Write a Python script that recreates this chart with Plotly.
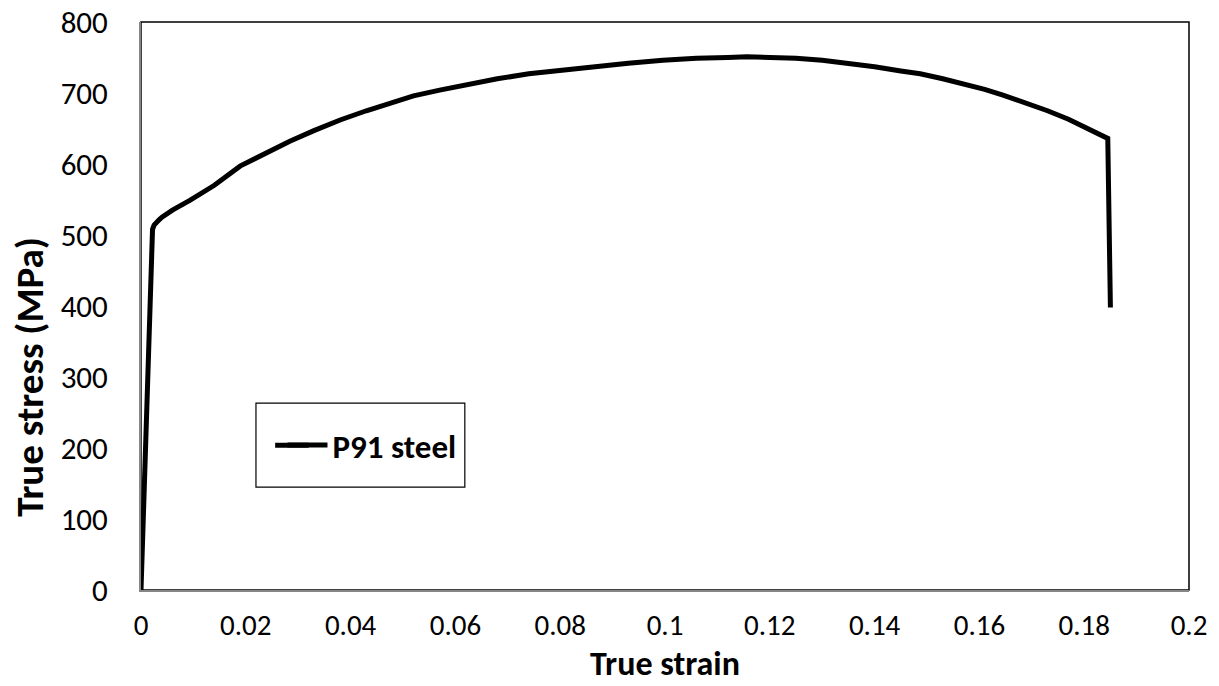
import plotly.graph_objects as go

# True strain / true stress
strain = [0.0, 0.0010, 0.0020, 0.0022, 0.0025, 0.0029, 0.0034, 0.0040, 0.0060, 0.0094, 0.0140,
          0.0189, 0.0240, 0.0284, 0.0330, 0.0380, 0.0430, 0.0475, 0.0520, 0.0570,
          0.0620, 0.0680, 0.0740, 0.0775, 0.0800, 0.0860, 0.0930, 0.0996, 0.1060,
          0.1120, 0.1156, 0.1200, 0.1250, 0.1300, 0.1350, 0.1400, 0.1450, 0.1487,
          0.1530, 0.1570, 0.1610, 0.1645, 0.1690, 0.1730, 0.1770, 0.1810, 0.1845, 0.1850]
stress = [0, 250, 500, 508, 514, 518, 521, 525, 535, 549, 570,
          597, 616, 632, 647, 662, 675, 686, 696, 704,
          712, 720, 727, 730, 732, 737, 742, 746, 749,
          750, 751, 750, 749, 746, 742, 737, 731, 727,
          720, 713, 705, 697, 686, 675, 663, 649, 636, 398]

series_name = "P91 steel"
x_ticks = [0, 0.02, 0.04, 0.06, 0.08, 0.1, 0.12, 0.14, 0.16, 0.18, 0.2]
x_tick_text = ["0", "0.02", "0.04", "0.06", "0.08", "0.1", "0.12", "0.14", "0.16", "0.18", "0.2"]
y_ticks = [0, 100, 200, 300, 400, 500, 600, 700, 800]

FONT = "Carlito, Calibri, Lato, sans-serif"

fig = go.Figure()
fig.add_trace(go.Scatter(
    x=strain, y=stress, mode="lines", name=series_name,
    line=dict(color="black", width=5),
))

fig.update_layout(
    width=1219, height=686,
    margin=dict(l=141, r=30, t=22, b=96, autoexpand=False),
    paper_bgcolor="white", plot_bgcolor="white",
    font=dict(family=FONT, color="black"),
    showlegend=True,
    legend=dict(
        x=0.135, y=0.255, xanchor="left", yanchor="middle",
        font=dict(family=FONT, size=33, color="black", weight="bold"),
        bgcolor="rgba(0,0,0,0)", borderwidth=0,
        itemwidth=40,
    ),
    xaxis=dict(
        range=[0, 0.2], tickvals=x_ticks, ticktext=x_tick_text,
        showgrid=False, zeroline=False, ticks="", automargin=False,
        showline=True, linecolor="#868686", linewidth=2,
        tickfont=dict(size=29, family=FONT), ticklabelstandoff=8,
        ticklabeloverflow="allow",
    ),
    yaxis=dict(
        range=[0, 800], tickvals=y_ticks,
        showgrid=False, zeroline=False, ticks="", automargin=False,
        showline=True, linecolor="#868686", linewidth=2,
        tickfont=dict(size=31, family=FONT), ticklabelstandoff=25,
        ticklabeloverflow="allow",
    ),
    annotations=[
        dict(text="<b>True stress (MPa)</b>", xref="paper", yref="paper",
             x=-0.107, y=0.375, xanchor="center", yanchor="middle",
             textangle=-90, showarrow=False, font=dict(size=39, family=FONT)),
        dict(text="<b>True strain</b>", xref="paper", yref="paper",
             x=0.5, y=-0.168, xanchor="center", yanchor="bottom",
             showarrow=False, font=dict(size=34, family=FONT), borderpad=0),
    ],
    shapes=[
        dict(type="rect", xref="paper", yref="paper", x0=0, x1=1, y0=0, y1=1,
             line=dict(color="black", width=1.5), layer="below"),
        dict(type="rect", xref="paper", yref="paper", x0=0.1097, x1=0.309, y0=0.181, y1=0.329,
             line=dict(color="black", width=1.2), fillcolor="white", layer="below"),
        dict(type="line", xref="paper", yref="paper", x0=0.128, x1=0.16, y0=0.255, y1=0.255,
             line=dict(color="black", width=5), layer="above"),
    ],
)

fig.write_html("out.html")
